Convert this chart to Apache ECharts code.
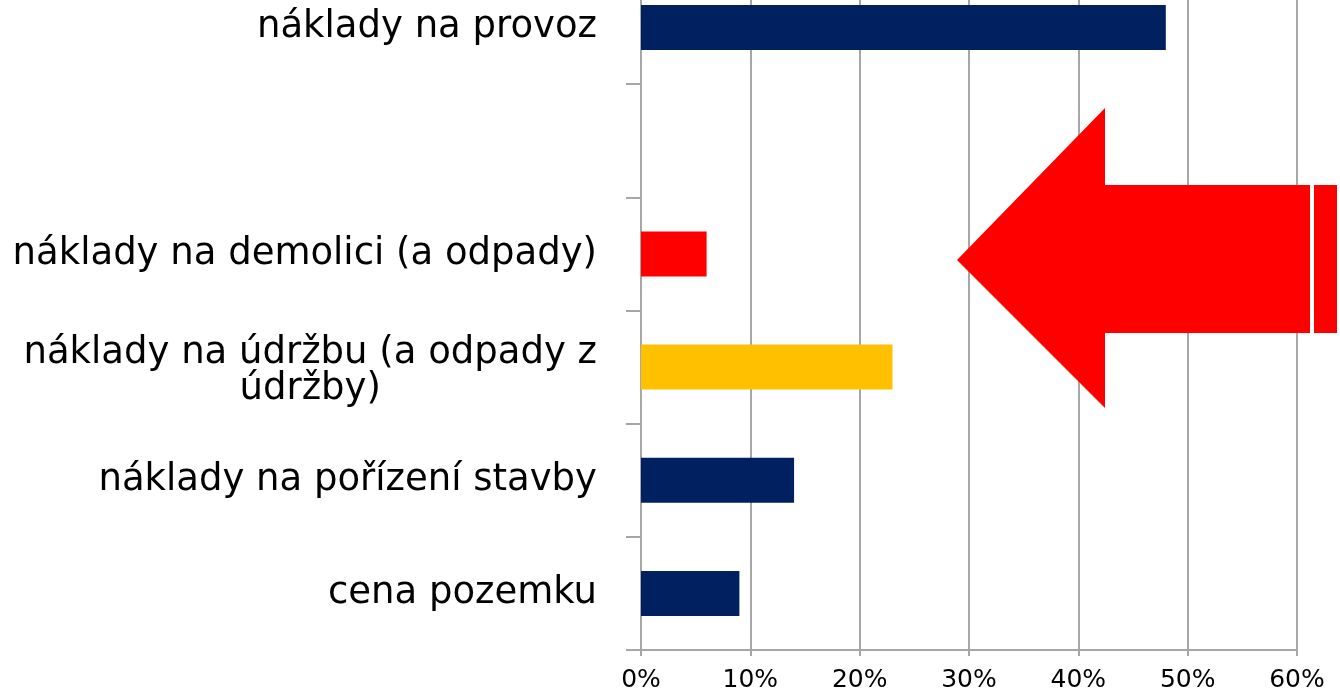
<!DOCTYPE html>
<html>
<head>
<meta charset="utf-8">
<script src="https://cdn.jsdelivr.net/npm/echarts@6/dist/echarts.min.js"></script>
<style>
html,body{margin:0;padding:0;background:#fff;overflow:hidden;width:1340px;height:688px;}
#c{position:absolute;left:0;top:-29px;width:1340px;height:722px;}
</style>
</head>
<body>
<div id="c"></div>
<script>
const categories = [
  'cena pozemku',
  'náklady na pořízení stavby',
  'náklady na údržbu (a odpady z\núdržby)',
  'náklady na demolici (a odpady)',
  '',
  'náklady na provoz'
];
const values = [9, 14, 23, 6, null, 48];
const barColors = ['#002060', '#002060', '#FFC000', '#FF0000', '#002060', '#002060'];
const xTicks = [0, 10, 20, 30, 40, 50, 60];

const OFFSET = 29; // container is shifted up by this many px
const chart = echarts.init(document.getElementById('c'));
chart.setOption({
  backgroundColor: '#ffffff',
  animation: false,
  grid: { left: 641, right: 43, top: 0, bottom: 35, containLabel: false },
  xAxis: {
    type: 'value',
    min: xTicks[0],
    max: xTicks[xTicks.length - 1],
    interval: 10,
    axisLine: { show: true, lineStyle: { color: '#A6A6A6', width: 2 } },
    axisTick: { show: true, length: 6, lineStyle: { color: '#A6A6A6', width: 2 } },
    splitLine: { show: true, lineStyle: { color: '#A6A6A6', width: 2 } },
    axisLabel: {
      formatter: '{value}%',
      color: '#000',
      fontFamily: 'DejaVu Sans',
      fontSize: 25,
      margin: 18
    }
  },
  yAxis: {
    type: 'category',
    data: categories,
    axisLine: { show: true, lineStyle: { color: '#A6A6A6', width: 2 } },
    axisTick: { show: true, length: 15, lineStyle: { color: '#A6A6A6', width: 2 } },
    axisLabel: {
      color: '#000',
      fontFamily: 'DejaVu Sans',
      fontSize: 37,
      margin: 44,
      lineHeight: 36,
      formatter: function (v) {
        const lines = v.split('\n');
        const body = lines.map(function (l) { return '{c|' + l + '}'; }).join('\n');
        return lines.length > 1 ? '{s|}\n' + body : body;
      },
      rich: {
        s: { lineHeight: 8, fontSize: 8 },
        c: { align: 'center', fontFamily: 'DejaVu Sans', fontSize: 37, color: '#000', lineHeight: 36 }
      }
    }
  },
  series: [{
    type: 'bar',
    barWidth: 45,
    data: values.map(function (v, i) {
      return { value: v, itemStyle: { color: barColors[i] } };
    })
  }],
  graphic: [
    {
      type: 'polygon',
      z: 100,
      shape: { points: [[957, 260 + OFFSET], [1105, 108 + OFFSET], [1105, 185 + OFFSET], [1310, 185 + OFFSET], [1310, 333 + OFFSET], [1105, 333 + OFFSET], [1105, 408 + OFFSET]] },
      style: { fill: '#FF0000' }
    },
    {
      type: 'rect',
      z: 100,
      shape: { x: 1314, y: 185 + OFFSET, width: 23, height: 148 },
      style: { fill: '#FF0000' }
    }
  ]
});
</script>
</body>
</html>
